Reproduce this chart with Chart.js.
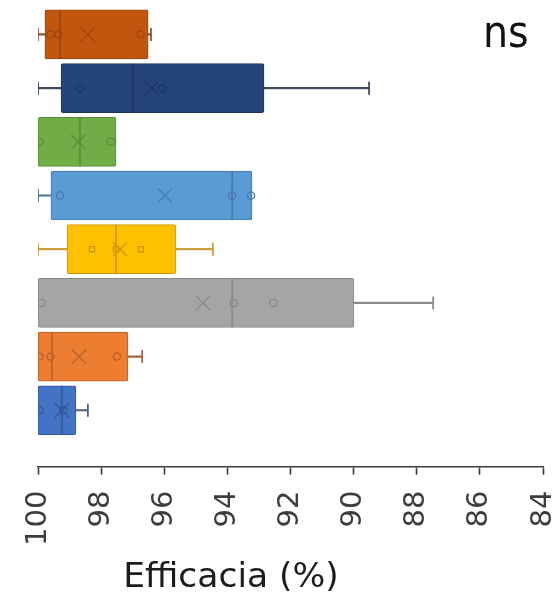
<!DOCTYPE html>
<html>
<head>
<meta charset="utf-8">
<script src="https://cdn.jsdelivr.net/npm/chart.js@4.4.1/dist/chart.umd.min.js"></script>
<style>
  html, body { margin: 0; padding: 0; background: #ffffff; }
  #wrap { width: 557px; height: 594px; position: relative; }
</style>
</head>
<body>
<div id="wrap"><canvas id="chart"></canvas></div>
<script>
// Efficacy (%) per group: box = Q1..Q3, whiskers = min..max, line = median, X = mean
const groups       = ['Gruppo 1', 'Gruppo 2', 'Gruppo 3', 'Gruppo 4', 'Gruppo 5', 'Gruppo 6', 'Gruppo 7', 'Gruppo 8'];
const whiskerLow   = [100.0, 100.0, 100.0, 100.0, 100.0, 100.0, 100.0, 100.0];
const quartile1    = [99.78, 99.27, 100.0, 99.59, 99.08, 100.0, 100.0, 100.0];
const medians      = [99.30, 96.99, 98.67, 93.85, 97.53, 93.85, 99.56, 99.24];
const quartile3    = [96.51, 92.84, 97.53, 93.22, 95.63, 89.99, 97.15, 98.80];
const whiskerHigh  = [96.42, 89.51, 97.53, 93.22, 94.46, 87.48, 96.70, 98.42];
const means        = [98.42, 96.40, 98.72, 95.98, 97.40, 94.77, 98.70, 99.24];
const observations = [
  [99.60, 99.35, 96.75],
  [98.67, 96.07],
  [99.95, 97.70],
  [99.30, 93.85, 93.25],
  [98.29, 97.53, 96.74],
  [99.90, 93.80, 92.55],
  [99.95, 99.60, 97.50],
  [99.95, 99.20]
];
const tickValues = [100, 98, 96, 94, 92, 90, 88, 86, 84];
const axisTitle  = 'Efficacia (%)';
const cornerNote = 'ns';

// colours
const fillColors  = ['#C3560F', '#254479', '#70AD47', '#5B9BD5', '#FFC000', '#A5A5A5', '#ED7D31', '#4472C4'];
const edgeColors  = ['#9C4610', '#1C355F', '#578C36', '#4678AD', '#C99700', '#888888', '#B8602A', '#33579A'];
const whiskColors = ['#8C5540', '#3E4A60', '#578C36', '#4D6E93', '#C9A040', '#8C8C8C', '#9E6647', '#4A5E8C'];

const rowOf = i => i + 1;

const boxData = groups.map((g, i) => ({ x: [quartile1[i], quartile3[i]], y: rowOf(i) }));
const whiskerData = groups.map((g, i) => ({ x: [whiskerLow[i], whiskerHigh[i]], y: rowOf(i) }));

// whisker caps only where the whisker extends past the box
const capPoints = [], capColors = [];
groups.forEach((g, i) => {
  if (whiskerLow[i] !== quartile1[i]) { capPoints.push({ x: whiskerLow[i], y: rowOf(i) }); capColors.push(whiskColors[i]); }
  if (whiskerHigh[i] !== quartile3[i]) { capPoints.push({ x: whiskerHigh[i], y: rowOf(i) }); capColors.push(whiskColors[i]); }
});

const medianData = groups.map((g, i) => ({ x: medians[i], y: rowOf(i) }));
const meanData = groups.map((g, i) => ({ x: means[i], y: rowOf(i) }));

const obsPoints = [], obsColors = [], obsStyles = [];
observations.forEach((list, i) => {
  list.forEach(v => {
    obsPoints.push({ x: v, y: rowOf(i) });
    obsColors.push(edgeColors[i]);
    obsStyles.push(i === 4 ? 'rect' : 'circle');
  });
});

const textLayer = {
  id: 'textLayer',
  afterDraw(chart) {
    const ctx = chart.ctx;
    ctx.save();
    ctx.fillStyle = '#1c1c1c';
    ctx.font = '34.5px "DejaVu Sans", sans-serif';
    ctx.textAlign = 'center';
    ctx.textBaseline = 'alphabetic';
    ctx.fillText(axisTitle, 231, 587);
    ctx.fillStyle = '#111111';
    ctx.font = '44px "DejaVu Sans Condensed", "DejaVu Sans", sans-serif';
    ctx.textAlign = 'left';
    ctx.fillText(cornerNote, 483, 47);
    ctx.restore();
  }
};

new Chart(document.getElementById('chart'), {
  type: 'bar',
  data: {
    datasets: [
      {
        type: 'scatter', label: 'Media', data: meanData, order: 0,
        pointStyle: 'crossRot', pointRadius: 10, pointBorderWidth: 1.2,
        pointBorderColor: edgeColors, pointBackgroundColor: edgeColors
      },
      {
        type: 'scatter', label: 'Osservazioni', data: obsPoints, order: 0,
        pointStyle: obsStyles, pointRadius: 3.6, pointBorderWidth: 1.3,
        pointBorderColor: obsColors, pointBackgroundColor: 'rgba(0,0,0,0)'
      },
      {
        type: 'scatter', label: 'Mediana', data: medianData, order: 1,
        pointStyle: 'line', pointRotation: 90, pointRadius: 24.4, pointBorderWidth: 1.6,
        pointBorderColor: edgeColors
      },
      {
        type: 'bar', label: 'Q1-Q3', data: boxData, order: 2, indexAxis: 'y',
        grouped: false, barThickness: 49,
        backgroundColor: fillColors, borderColor: edgeColors, borderWidth: 1,
        borderSkipped: false, borderRadius: 2
      },
      {
        type: 'scatter', label: 'Estremi', data: capPoints, order: 3,
        pointStyle: 'line', pointRotation: 90, pointRadius: 6.5, pointBorderWidth: 1.8,
        pointBorderColor: capColors
      },
      {
        type: 'bar', label: 'Min-Max', data: whiskerData, order: 4, indexAxis: 'y',
        grouped: false, barThickness: 1.5,
        backgroundColor: whiskColors, borderWidth: 0
      }
    ]
  },
  options: {
    indexAxis: 'y',
    responsive: true,
    maintainAspectRatio: false,
    animation: false,
    events: [],
    layout: { autoPadding: false, padding: { left: 38, right: 14, top: 7.6, bottom: 32 } },
    plugins: { legend: { display: false }, tooltip: { enabled: false }, title: { display: false } },
    scales: {
      y: {
        type: 'linear', reverse: true, min: 0.5, max: 9.05, display: false,
        offset: false, grid: { offset: false }
      },
      x: {
        type: 'linear', reverse: true, min: 84, max: 100, position: 'bottom',
        afterBuildTicks: scale => { scale.ticks = tickValues.map(v => ({ value: v })); },
        afterFit: scale => { scale.paddingLeft = 0; scale.paddingRight = 0; },
        border: { display: true, color: '#3a3a3a', width: 1.6 },
        grid: { drawOnChartArea: false, drawTicks: true, tickLength: 8, tickWidth: 1.6, tickColor: '#3a3a3a' },
        ticks: {
          autoSkip: false, minRotation: 90, maxRotation: 90, padding: 16,
          color: '#3c3c3c',
          font: { family: '"DejaVu Sans", sans-serif', size: 29, lineHeight: 1 }
        }
      }
    }
  },
  plugins: [textLayer]
});
</script>
</body>
</html>
